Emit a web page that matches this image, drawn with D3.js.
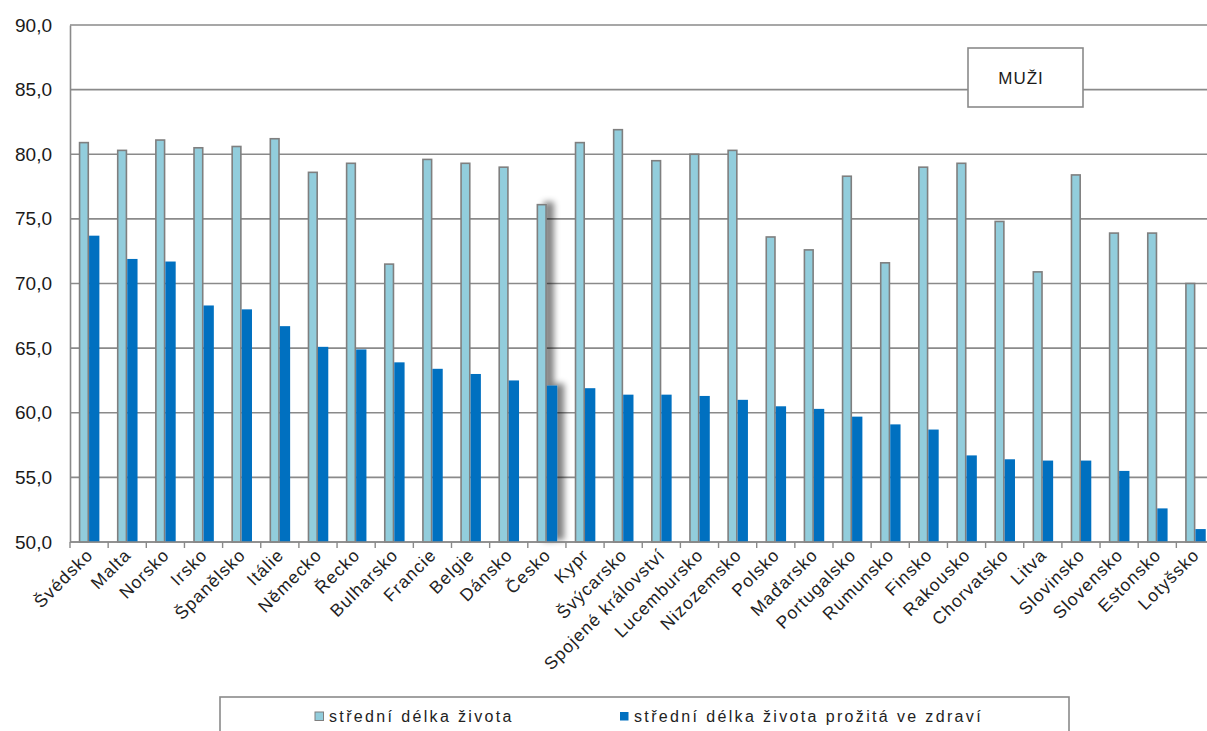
<!DOCTYPE html>
<html>
<head>
<meta charset="utf-8">
<script src="https://cdn.jsdelivr.net/npm/d3@7"></script>
<style>
  html, body { margin: 0; padding: 0; background: #fff; overflow: hidden; }
  svg { display: block; font-family: "Liberation Sans", Arial, sans-serif; }
</style>
</head>
<body>
<svg id="chart" width="1207" height="731"></svg>
<script>
const categories = ["Švédsko","Malta","Norsko","Irsko","Španělsko","Itálie","Německo","Řecko","Bulharsko","Francie","Belgie","Dánsko","Česko","Kypr","Švýcarsko","Spojené království","Lucembursko","Nizozemsko","Polsko","Maďarsko","Portugalsko","Rumunsko","Finsko","Rakousko","Chorvatsko","Litva","Slovinsko","Slovensko","Estonsko","Lotyšsko"];
const lifeExpectancy = [80.9,80.3,81.1,80.5,80.6,81.2,78.6,79.3,71.5,79.6,79.3,79.0,76.1,80.9,81.9,79.5,80.0,80.3,73.6,72.6,78.3,71.6,79.0,79.3,74.8,70.9,78.4,73.9,73.9,70.0];
const healthyLifeExpectancy = [73.7,71.9,71.7,68.3,68.0,66.7,65.1,64.9,63.9,63.4,63.0,62.5,62.1,61.9,61.4,61.4,61.3,61.0,60.5,60.3,59.7,59.1,58.7,56.7,56.4,56.3,56.3,55.5,52.6,51.0];
const seriesNames = ["střední délka života","střední délka života prožitá ve zdraví"];
const yTicks = [50,55,60,65,70,75,80,85,90];
const highlighted = "Česko";
const boxLabel = "MUŽI";

const colors = ["#92CDDC", "#0070C0"];
const gridColor = "#8a8a8a";

const svg = d3.select("#chart");
const plotLeft = 70, plotTop = 25, plotBottom = 542, plotRight = 1214.5;

const y = d3.scaleLinear().domain([50, 90]).range([plotBottom, plotTop]);
const x = d3.scaleBand().domain(categories).range([plotLeft, plotRight]).paddingInner(0).paddingOuter(0);
const x1 = d3.scaleBand().domain([0, 1]).range([0, x.bandwidth()]).paddingInner(0).paddingOuter(0.85);

const defs = svg.append("defs");
const filt = defs.append("filter").attr("id", "shadow")
  .attr("x", "-100%").attr("y", "-10%").attr("width", "400%").attr("height", "130%");
filt.append("feGaussianBlur").attr("in", "SourceAlpha").attr("stdDeviation", 3.2).attr("result", "b");
filt.append("feOffset").attr("in", "b").attr("dx", 7).attr("dy", -2).attr("result", "o");
filt.append("feComponentTransfer").attr("in", "o").attr("result", "s")
  .append("feFuncA").attr("type", "linear").attr("slope", 0.5);
const merge = filt.append("feMerge");
merge.append("feMergeNode").attr("in", "s");
merge.append("feMergeNode").attr("in", "SourceGraphic");

// gridlines
svg.append("g").selectAll("line").data(yTicks).join("line")
  .attr("x1", plotLeft).attr("x2", plotRight)
  .attr("y1", d => y(d)).attr("y2", d => y(d))
  .attr("stroke", gridColor).attr("stroke-width", 1.6);

// y axis
const yAxis = svg.append("g").attr("transform", `translate(${plotLeft},0)`)
  .call(d3.axisLeft(y).tickValues(yTicks).tickSize(0).tickPadding(18)
    .tickFormat(d => d3.format(".1f")(d).replace(".", ",")));
yAxis.select(".domain").attr("stroke", gridColor).attr("stroke-width", 1.6);
yAxis.selectAll("text").attr("font-size", 19).attr("fill", "#1a1a1a")
  .attr("font-family", "Liberation Sans, Arial, sans-serif");

// bars
const groups = svg.append("g").selectAll("g").data(categories).join("g")
  .attr("transform", d => `translate(${x(d)},0)`)
  .attr("filter", d => d === highlighted ? "url(#shadow)" : null);

groups.append("rect")
  .attr("x", x1(0) + 0.8).attr("width", x1.bandwidth() - 1.6)
  .attr("y", (d, i) => y(lifeExpectancy[i]))
  .attr("height", (d, i) => y(50) - y(lifeExpectancy[i]))
  .attr("fill", colors[0]).attr("stroke", "#7f7f7f").attr("stroke-width", 1.6);

groups.append("rect")
  .attr("x", x1(1)).attr("width", x1.bandwidth())
  .attr("y", (d, i) => y(healthyLifeExpectancy[i]))
  .attr("height", (d, i) => y(50) - y(healthyLifeExpectancy[i]))
  .attr("fill", colors[1]);

// x axis
const xAxisG = svg.append("g").attr("transform", `translate(0,${plotBottom})`);
xAxisG.append("line").attr("x1", plotLeft).attr("x2", plotRight).attr("stroke", gridColor).attr("stroke-width", 1.6);
xAxisG.selectAll("line.tick").data(d3.range(categories.length + 1)).join("line")
  .attr("class", "tick")
  .attr("x1", i => plotLeft + i * x.step()).attr("x2", i => plotLeft + i * x.step())
  .attr("y1", 0).attr("y2", 6).attr("stroke", gridColor).attr("stroke-width", 1.4);
xAxisG.selectAll("text").data(categories).join("text")
  .attr("transform", d => `translate(${x(d) + x.bandwidth() / 2 + 5},${14}) rotate(-45)`)
  .attr("text-anchor", "end")
  .attr("font-size", 17.5).attr("letter-spacing", 1.1).attr("fill", "#222")
  .text(d => d);

// MUŽI box
svg.append("rect").attr("x", 968).attr("y", 48).attr("width", 115).attr("height", 59)
  .attr("fill", "#fff").attr("stroke", gridColor).attr("stroke-width", 1.6);
svg.append("text").attr("x", 1021).attr("y", 84).attr("text-anchor", "middle")
  .attr("font-size", 17).attr("letter-spacing", 1).attr("fill", "#1a1a1a").text(boxLabel);

// legend
svg.append("rect").attr("x", 220).attr("y", 697).attr("width", 849).attr("height", 60)
  .attr("fill", "#fff").attr("stroke", gridColor).attr("stroke-width", 1.6);
const legendX = [315, 620];
const leg = svg.append("g").selectAll("g").data(seriesNames).join("g")
  .attr("transform", (d, i) => `translate(${legendX[i]},716)`);
leg.append("rect").attr("x", 0).attr("y", -4).attr("width", 8.5).attr("height", 8.5)
  .attr("fill", (d, i) => colors[i]).attr("stroke", (d, i) => i === 0 ? "#7f7f7f" : "none").attr("stroke-width", 1);
leg.append("text").attr("x", 14).attr("y", 6).attr("font-size", 16).attr("letter-spacing", 2.35)
  .attr("fill", "#222").text(d => d);
</script>
</body>
</html>
